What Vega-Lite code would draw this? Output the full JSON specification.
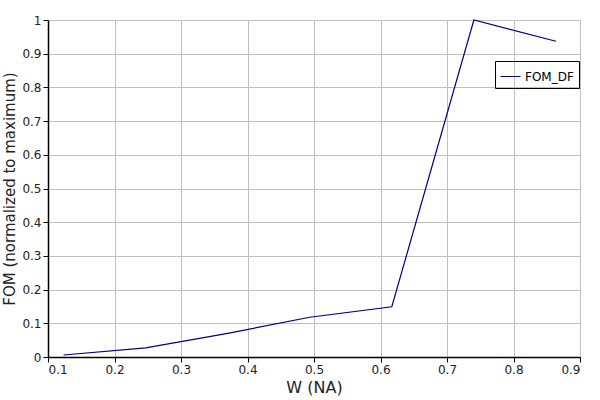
{
  "$schema": "https://vega.github.io/schema/vega-lite/v6.json",
  "autosize": {"type": "none"},
  "padding": {"left": 48, "top": 20, "right": 20, "bottom": 43},
  "width": 532,
  "height": 337,
  "background": "white",
  "data": {
    "values": [
      {"w": 0.1234, "fom": 0.006, "series": "FOM_DF"},
      {"w": 0.2468, "fom": 0.027, "series": "FOM_DF"},
      {"w": 0.3702, "fom": 0.07, "series": "FOM_DF"},
      {"w": 0.4936, "fom": 0.118, "series": "FOM_DF"},
      {"w": 0.617, "fom": 0.149, "series": "FOM_DF"},
      {"w": 0.7404, "fom": 1.0, "series": "FOM_DF"},
      {"w": 0.8638, "fom": 0.937, "series": "FOM_DF"}
    ]
  },
  "mark": {"type": "line", "strokeWidth": 1.2},
  "encoding": {
    "x": {
      "field": "w",
      "type": "quantitative",
      "scale": {"domain": [0.1, 0.9], "nice": false, "zero": false},
      "axis": {
        "title": "W (NA)",
        "values": [0.1, 0.2, 0.3, 0.4, 0.5, 0.6, 0.7, 0.8, 0.9],
        "format": "~g",
        "titlePadding": 4
      }
    },
    "y": {
      "field": "fom",
      "type": "quantitative",
      "scale": {"domain": [0, 1], "nice": false},
      "axis": {
        "title": "FOM (normalized to maximum)",
        "values": [0, 0.1, 0.2, 0.3, 0.4, 0.5, 0.6, 0.7, 0.8, 0.9, 1],
        "format": "~g",
        "titlePadding": 4,
        "titleFontSize": 15
      }
    },
    "color": {
      "field": "series",
      "type": "nominal",
      "scale": {"range": ["#000080"]},
      "legend": {
        "title": null,
        "orient": "none",
        "legendX": 447,
        "legendY": 41,
        "symbolType": "stroke",
        "symbolSize": 400,
        "symbolStrokeWidth": 1,
        "strokeColor": "black",
        "padding": 5,
        "labelFontSize": 12,
        "labelFont": "DejaVu Sans",
        "labelColor": "black"
      }
    }
  },
  "config": {
    "view": {"stroke": null},
    "axis": {
      "domainColor": "black",
      "domainWidth": 1.5,
      "tickColor": "black",
      "tickSize": 5,
      "gridColor": "#c0c0c0",
      "labelFont": "DejaVu Sans",
      "labelFontSize": 12,
      "labelColor": "#222",
      "titleFont": "DejaVu Sans",
      "titleFontSize": 16,
      "titleFontWeight": "normal",
      "titleColor": "#222",
      "labelPadding": 2
    }
  }
}
